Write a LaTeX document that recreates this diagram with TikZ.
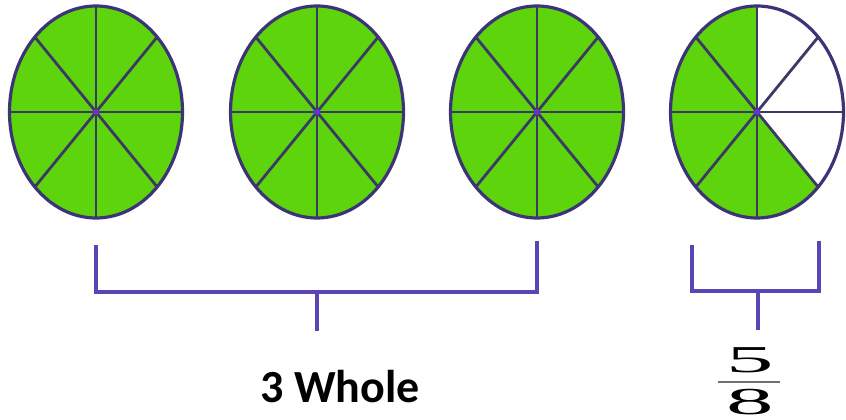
\documentclass[tikz,border=0pt]{standalone}
\usepackage{graphicx}
\usepackage{fontspec}
\setmainfont{Liberation Serif}
\newfontfamily\wholefont{Carlito}
\usetikzlibrary{shapes.geometric,backgrounds,calc}
\definecolor{leaf}   {HTML}{5ED40C}
\definecolor{rimc}   {HTML}{3D3478}
\definecolor{spokec} {HTML}{3B3A66}
\definecolor{hubc}   {HTML}{6B2FD6}
\definecolor{bracec} {HTML}{5B44B4}
\definecolor{barc}   {HTML}{707070}
\tikzset{
  pie/.style      ={ellipse, draw=rimc, fill=leaf, line width=3.2pt,
                    minimum width=173pt, minimum height=212pt,
                    inner sep=0pt, outer sep=0pt},
  openpie/.style  ={pie, fill=none},
  spoke/.style    ={draw=spokec, line width=2.8pt},
  brace/.style    ={draw=bracec, line width=3.2pt},
  whole/.style    ={font=\wholefont\bfseries\fontsize{46}{46}\selectfont,
                    inner sep=0pt, anchor=base},
  digit/.style    ={inner sep=0pt},
}
\newcommand{\wide}[1]{\scalebox{2.5}[1]{\fontsize{38}{38}\selectfont #1}}

\begin{document}
\begin{tikzpicture}[x=1pt,y=1pt]
  \useasboundingbox (0,0) rectangle (846,420);

  \node[pie]     (p1) at (96,308)  {};
  \node[pie]     (p2) at (317,308) {};
  \node[pie]     (p3) at (537,308) {};
  \node[openpie] (p4) at (757,308) {};

  % five eighths of the last one
  \begin{scope}[on background layer]
    \fill[leaf] (p4.center) -- (p4.north)
      arc[start angle=90, end angle=315, x radius=86.5, y radius=106] -- cycle;
  \end{scope}

  \foreach \p in {p1,p2,p3,p4} {
    \draw[spoke] (\p.north) -- (\p.south);
    \draw[spoke] (\p.west) -- (\p.east);
    \draw[spoke] (\p.north west) -- (\p.south east);
    \draw[spoke] (\p.north east) -- (\p.south west);
    \fill[hubc] (\p.center) circle (3);
  }

  % brackets
  \coordinate (b1l)   at ([yshift=-27pt]p1.south);
  \coordinate (b1r)   at ([yshift=-23pt]p3.south);
  \coordinate (bar1)  at ([yshift=-74pt]p2.south);
  \coordinate (stem1) at ([yshift=-39pt]bar1);
  \draw[brace] (b1l) -- (b1l |- bar1) -- (b1r |- bar1) -- (b1r);
  \draw[brace] (bar1) -- (stem1);

  \coordinate (b2l)   at ([xshift=-65pt,yshift=-27pt]p4.south);
  \coordinate (b2r)   at ([xshift=62pt,yshift=-23pt]p4.south);
  \coordinate (bar2)  at ([xshift=1pt,yshift=-73pt]p4.south);
  \coordinate (stem2) at ([yshift=-39pt]bar2);
  \draw[brace] (b2l) -- (b2l |- bar2) -- (b2r |- bar2) -- (b2r);
  \draw[brace] (bar2) -- (stem2);

  \node[whole] (wholes) at (340,17) {3 Whole};

  \node[digit] (num) at (750,60) {\wide{5}};
  \node[fill=barc, inner sep=0pt, minimum width=62pt, minimum height=2.2pt] (fracbar) at (749,38) {};
  \node[digit] (den) at (750,18) {\wide{8}};
\end{tikzpicture}
\end{document}
